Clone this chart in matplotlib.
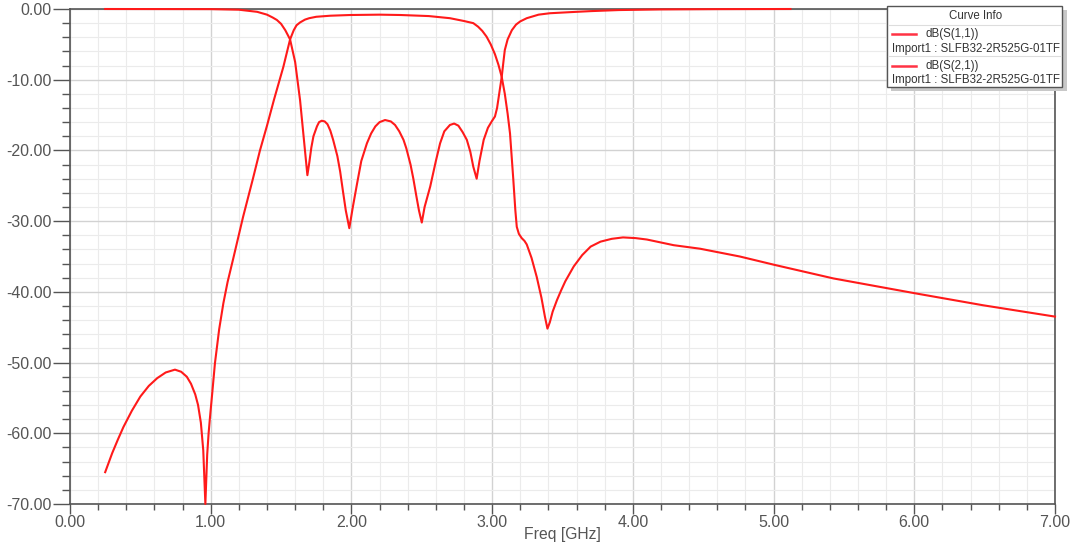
import matplotlib.pyplot as plt
from matplotlib.patches import Rectangle
from matplotlib.lines import Line2D
from matplotlib.ticker import MultipleLocator, FormatStrFormatter

plt.rcParams['font.family'] = ['Liberation Sans', 'DejaVu Sans']

# dB(S(1,1))
s11_freq = [0.25, 1.00, 1.20, 1.33, 1.40, 1.44, 1.47, 1.50, 1.53, 1.564, 1.60, 1.635,
            1.66, 1.687, 1.70, 1.715, 1.73, 1.755, 1.77, 1.789, 1.81, 1.83, 1.85, 1.87,
            1.90, 1.92, 1.94, 1.96, 1.985, 2.01, 2.04, 2.07, 2.11, 2.14, 2.17, 2.20,
            2.239, 2.28, 2.31, 2.34, 2.37, 2.39, 2.42, 2.44, 2.46, 2.48, 2.50, 2.52,
            2.56, 2.60, 2.63, 2.66, 2.70, 2.73, 2.76, 2.79, 2.82, 2.845, 2.866, 2.89,
            2.91, 2.94, 2.97, 3.00, 3.02, 3.035, 3.05, 3.068, 3.08, 3.09, 3.11, 3.14,
            3.17, 3.20, 3.246, 3.33, 3.41, 3.55, 3.70, 3.90, 4.20, 4.60, 5.12]
s11_db = [0.0, -0.02, -0.1, -0.4, -0.8, -1.2, -1.55, -2.1, -3.0, -4.3, -7.5, -12.9,
          -18.0, -23.5, -21.8, -19.6, -18.0, -16.6, -16.0, -15.8, -15.9, -16.3, -17.2, -18.5,
          -20.8, -23.0, -25.8, -28.5, -31.0, -28.0, -24.7, -21.5, -19.0, -17.6, -16.6, -16.0,
          -15.7, -15.9, -16.4, -17.3, -18.5, -19.7, -22.0, -24.0, -26.3, -28.5, -30.2, -28.0,
          -25.1, -21.5, -19.0, -17.3, -16.4, -16.2, -16.5, -17.4, -18.5, -20.2, -22.3, -24.0,
          -21.5, -18.5, -16.8, -15.8, -15.2, -14.0, -12.0, -9.6, -7.5, -5.8, -4.3, -3.0,
          -2.2, -1.75, -1.3, -0.8, -0.6, -0.45, -0.3, -0.15, -0.06, -0.02, 0.0]

# dB(S(2,1))
s21_freq = [0.25, 0.30, 0.34, 0.38, 0.44, 0.50, 0.56, 0.62, 0.68, 0.746, 0.79, 0.83,
            0.86, 0.89, 0.91, 0.93, 0.947, 0.962, 0.975, 0.985, 0.995, 1.01, 1.03, 1.06,
            1.09, 1.12, 1.16, 1.23, 1.30, 1.35, 1.40, 1.45, 1.516, 1.564, 1.59, 1.61,
            1.635, 1.67, 1.70, 1.75, 1.85, 1.99, 2.20, 2.35, 2.55, 2.70, 2.80, 2.866,
            2.90, 2.93, 2.96, 2.99, 3.02, 3.045, 3.068, 3.09, 3.11, 3.127, 3.15, 3.165,
            3.175, 3.19, 3.21, 3.23, 3.246, 3.28, 3.317, 3.35, 3.375, 3.393, 3.41, 3.43,
            3.46, 3.49, 3.52, 3.58, 3.64, 3.70, 3.77, 3.85, 3.93, 4.02, 4.10, 4.29,
            4.478, 4.76, 5.01, 5.425, 6.005, 6.49, 7.00]
s21_db = [-65.5, -62.8, -60.9, -59.1, -56.8, -54.8, -53.3, -52.2, -51.4, -51.0, -51.3, -52.0,
          -53.0, -54.5, -56.0, -58.5, -62.4, -70.0, -63.0, -60.0, -57.7, -54.5, -50.1, -45.3,
          -41.6, -38.6, -35.3, -29.4, -24.0, -20.0, -16.5, -12.8, -8.2, -4.3, -3.0, -2.3,
          -1.9, -1.5, -1.3, -1.1, -0.95, -0.85, -0.8, -0.85, -1.0, -1.3, -1.7, -2.0,
          -2.5, -3.1, -3.9, -5.0, -6.4, -7.9, -9.6, -12.0, -14.8, -17.6, -24.0, -28.5,
          -30.8, -31.8, -32.4, -32.8, -33.3, -35.2, -37.9, -40.8, -43.5, -45.2, -44.3, -42.8,
          -41.2, -39.8, -38.5, -36.4, -34.8, -33.6, -32.9, -32.5, -32.3, -32.4, -32.6, -33.4,
          -33.9, -35.0, -36.2, -38.1, -40.2, -41.9, -43.5]

curve_names = ['dB(S(1,1))', 'dB(S(2,1))']
source_name = 'Import1 : SLFB32-2R525G-01TF'

fig = plt.figure(figsize=(10.8, 5.44), dpi=100)
ax = fig.add_axes([70 / 1080, 1 - 504 / 544, 985 / 1080, 495 / 544])

red = '#ff1a1a'
ax.plot(s11_freq, s11_db, color=red, lw=1.5, clip_on=False, zorder=4)
ax.plot(s21_freq, s21_db, color=red, lw=1.5, clip_on=False, zorder=4)

ax.set_xlim(0, 7)
ax.set_ylim(-70, 0)
ax.xaxis.set_major_locator(MultipleLocator(1))
ax.xaxis.set_minor_locator(MultipleLocator(0.2))
ax.yaxis.set_major_locator(MultipleLocator(10))
ax.yaxis.set_minor_locator(MultipleLocator(2))
ax.xaxis.set_major_formatter(FormatStrFormatter('%.2f'))
ax.yaxis.set_major_formatter(FormatStrFormatter('%.2f'))

ax.grid(which='major', color='#d2d2d2', lw=1.0)
ax.grid(which='minor', color='#ebebeb', lw=0.8)
ax.set_axisbelow(True)

for s in ax.spines.values():
    s.set_color('#555555')
    s.set_linewidth(1.2)

ax.tick_params(axis='both', which='both', direction='out', colors='#555555',
               labelcolor='#555555', labelsize=11.5)
ax.tick_params(axis='y', which='major', length=12, width=1.0, pad=1)
ax.tick_params(axis='y', which='minor', length=6, width=1.0)
ax.tick_params(axis='x', which='major', length=7, width=1.0, pad=1)
ax.tick_params(axis='x', which='minor', length=4, width=1.0)
ax.set_xlabel('Freq [GHz]', fontsize=11.3, color='#555555', labelpad=-2)

# curve info box, drawn in pixel positions of the figure
W, H = 1080, 544


def fx(px):
    return px / W


def fy(py):
    return 1 - py / H


fig.add_artist(Rectangle((fx(891), fy(91)), fx(1067) - fx(891), fy(10) - fy(91),
                         transform=fig.transFigure, facecolor='#c8c8c8',
                         edgecolor='none', zorder=9))
fig.add_artist(Rectangle((fx(887), fy(87)), fx(1062) - fx(887), fy(6) - fy(87),
                         transform=fig.transFigure, facecolor='white',
                         edgecolor='#555555', lw=1.0, zorder=10))
fig.text(fx(976), fy(16), 'Curve Info', ha='center', va='center', fontsize=8.3,
         color='#333333', zorder=11)
for yy in (25, 56):
    fig.add_artist(Line2D([fx(888), fx(1061)], [fy(yy), fy(yy)], color='#dddddd',
                          lw=0.8, transform=fig.transFigure, zorder=11))
for i, name in enumerate(curve_names):
    y0 = 34 + i * 31.5
    fig.add_artist(Line2D([fx(892), fx(916)], [fy(y0), fy(y0)], color='#ff3344',
                          lw=1.8, transform=fig.transFigure, zorder=11))
    fig.text(fx(925), fy(y0), name, ha='left', va='center', fontsize=8.3,
             color='#333333', zorder=11)
    fig.text(fx(892), fy(y0 + 15), source_name, ha='left', va='center',
             fontsize=8.3, color='#333333', zorder=11)

fig.savefig('out.png', dpi=100)
